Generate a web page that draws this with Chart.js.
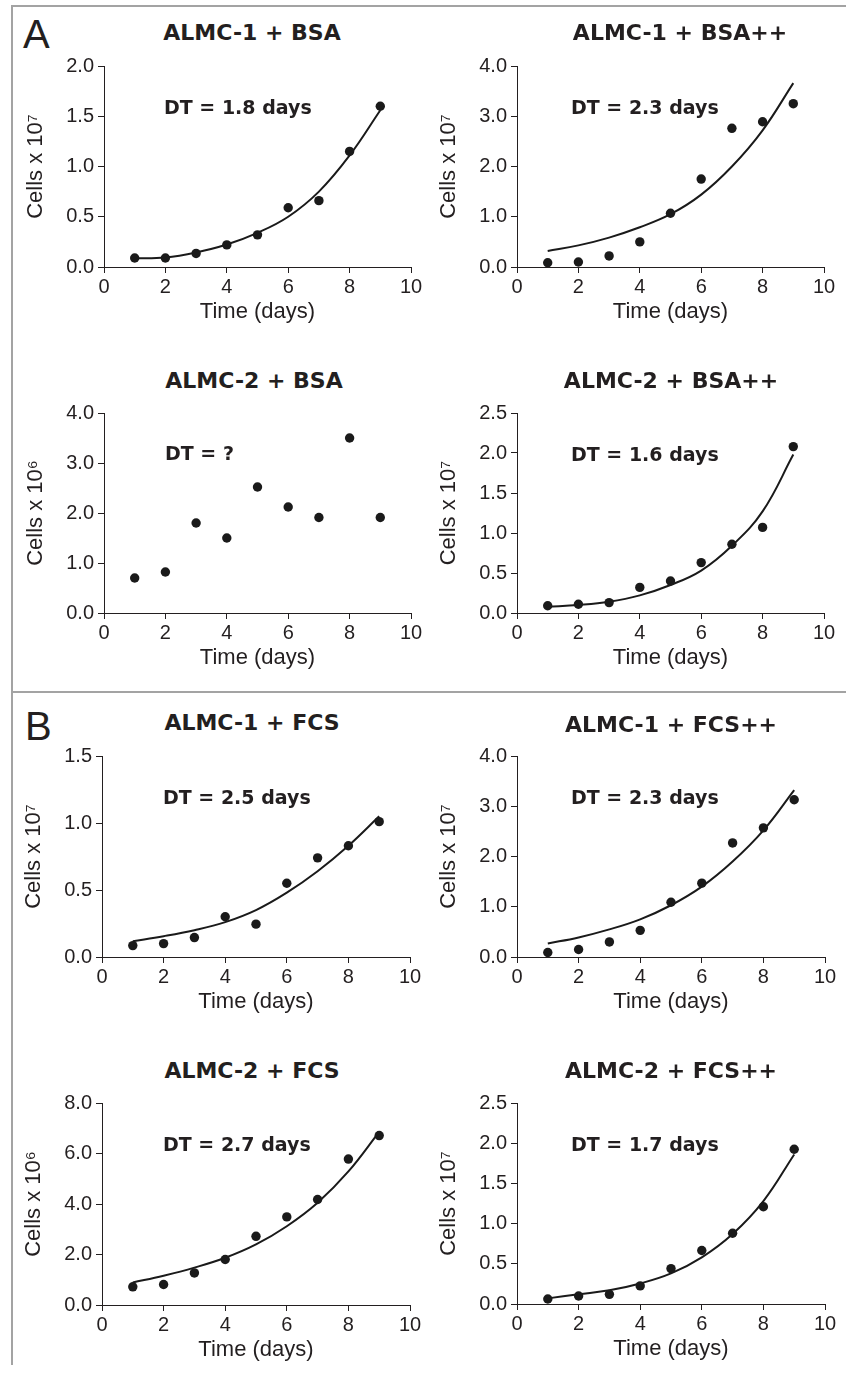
<!DOCTYPE html>
<html lang="en">
<head>
<meta charset="UTF-8">
<title>ALMC growth curves</title>
<script src="https://cdn.jsdelivr.net/npm/chart.js"></script>
<style>
  body { margin: 0; background: #fff; }
  #page { position: relative; width: 846px; height: 1375px; overflow: hidden;
          font-family: "DejaVu Sans", sans-serif; color: #231f20; }
  .frame { position: absolute; background: #a3a3a3; }
  .title { position: absolute; font-weight: bold; font-size: 22px; line-height: 22px;
           white-space: nowrap; transform: translateX(-50%); }
  .dt { position: absolute; font-weight: bold; font-size: 19px; line-height: 19px; white-space: nowrap; }
  .letter { position: absolute; font-family: "Liberation Sans", Arial, sans-serif;
            font-size: 40px; line-height: 40px; }
  canvas { position: absolute; }
</style>
</head>
<body>
<div id="page">
  <div class="frame" style="left:11px; top:5px; width:835px; height:1.5px;"></div>
  <div class="frame" style="left:11px; top:5px; width:1.5px; height:1360px;"></div>
  <div class="frame" style="left:11px; top:691px; width:835px; height:1.5px;"></div>
  <div class="letter" style="left:23px; top:14px;">A</div>
  <div class="letter" style="left:25px; top:706px;">B</div>
</div>

<script>
// time points (days) and x axis ticks
const days = [1, 2, 3, 4, 5, 6, 7, 8, 9];
const xTicks = [0, 2, 4, 6, 8, 10];

// A: ALMC-1 + BSA  (cells x 10^7)
const almc1BsaCells = [0.09, 0.09, 0.135, 0.22, 0.32, 0.59, 0.66, 1.15, 1.60];
const almc1BsaFit   = [0.086, 0.095, 0.145, 0.224, 0.34, 0.50, 0.75, 1.11, 1.56];
// A: ALMC-1 + BSA++  (cells x 10^7)
const almc1BsaPPCells = [0.085, 0.10, 0.22, 0.50, 1.07, 1.75, 2.76, 2.89, 3.25];
const almc1BsaPPFit   = [0.32, 0.43, 0.585, 0.79, 1.05, 1.44, 2.00, 2.72, 3.66];
// A: ALMC-2 + BSA  (cells x 10^6), no fit
const almc2BsaCells = [0.70, 0.82, 1.80, 1.50, 2.52, 2.12, 1.91, 3.50, 1.91];
// A: ALMC-2 + BSA++  (cells x 10^7)
const almc2BsaPPCells = [0.09, 0.11, 0.13, 0.32, 0.40, 0.63, 0.86, 1.07, 2.08];
const almc2BsaPPFit   = [0.078, 0.10, 0.14, 0.22, 0.35, 0.53, 0.84, 1.27, 1.98];

// B: ALMC-1 + FCS  (cells x 10^7)
const almc1FcsCells = [0.085, 0.10, 0.145, 0.30, 0.245, 0.55, 0.74, 0.83, 1.01];
const almc1FcsFit   = [0.118, 0.155, 0.20, 0.26, 0.35, 0.48, 0.64, 0.83, 1.05];
// B: ALMC-1 + FCS++  (cells x 10^7)
const almc1FcsPPCells = [0.09, 0.15, 0.30, 0.53, 1.09, 1.47, 2.27, 2.57, 3.13];
const almc1FcsPPFit   = [0.27, 0.39, 0.55, 0.75, 1.03, 1.40, 1.90, 2.52, 3.32];
// B: ALMC-2 + FCS  (cells x 10^6)
const almc2FcsCells = [0.72, 0.81, 1.27, 1.80, 2.72, 3.49, 4.18, 5.78, 6.71];
const almc2FcsFit   = [0.89, 1.16, 1.48, 1.87, 2.40, 3.12, 4.05, 5.29, 6.86];
// B: ALMC-2 + FCS++  (cells x 10^7)
const almc2FcsPPCells = [0.062, 0.10, 0.12, 0.225, 0.44, 0.665, 0.88, 1.21, 1.925];
const almc2FcsPPFit   = [0.07, 0.12, 0.17, 0.255, 0.38, 0.58, 0.87, 1.28, 1.86];

const titles = ['ALMC-1 + BSA', 'ALMC-1 + BSA++', 'ALMC-2 + BSA', 'ALMC-2 + BSA++',
                'ALMC-1 + FCS', 'ALMC-1 + FCS++', 'ALMC-2 + FCS', 'ALMC-2 + FCS++'];
const dtLabels = ['DT = 1.8 days', 'DT = 2.3 days', 'DT = ?', 'DT = 1.6 days',
                  'DT = 2.5 days', 'DT = 2.3 days', 'DT = 2.7 days', 'DT = 1.7 days'];
const yTitles = ['Cells x 10\u2077', 'Cells x 10\u2077', 'Cells x 10\u2076', 'Cells x 10\u2077',
                 'Cells x 10\u2077', 'Cells x 10\u2077', 'Cells x 10\u2076', 'Cells x 10\u2077'];
const yMax  = [2.0, 4.0, 4.0, 2.5, 1.5, 4.0, 8.0, 2.5];
const yStep = [0.5, 1.0, 1.0, 0.5, 0.5, 1.0, 2.0, 0.5];
const cells = [almc1BsaCells, almc1BsaPPCells, almc2BsaCells, almc2BsaPPCells,
               almc1FcsCells, almc1FcsPPCells, almc2FcsCells, almc2FcsPPCells];
const fits  = [almc1BsaFit, almc1BsaPPFit, null, almc2BsaPPFit,
               almc1FcsFit, almc1FcsPPFit, almc2FcsFit, almc2FcsPPFit];

// layout: plot box in page pixels [x at 0, x at 10, y at top, y at 0]
const boxes = [
  [104, 411, 64, 267], [517, 824, 64, 267],
  [104, 411, 411, 613], [517, 824, 411, 613],
  [102, 410, 754, 957], [517, 825, 754, 957],
  [102, 410, 1101, 1305], [517, 825, 1101, 1304]
];
const titlePos = [[252, 25], [680, 25], [254, 373], [671, 373],
                  [252, 715], [671, 717], [252, 1063], [671, 1063]];
const dtPos = [[164, 100], [571, 100], [165, 446], [571, 447],
               [163, 790], [571, 790], [163, 1137], [571, 1137]];

const ink = '#231f20';
const dot = '#1a1a1a';
const sans = '"Liberation Sans", Arial, sans-serif';
Chart.defaults.font.family = sans;
Chart.defaults.color = ink;

const page = document.getElementById('page');
const LEFT = 90, RIGHT = 18, TOP = 14, BOTTOM = 64;

titles.forEach((t, i) => {
  const [x0, x10, yTop, y0] = boxes[i];

  const canvas = document.createElement('canvas');
  const w = (x10 - x0) + LEFT + RIGHT;
  const h = (y0 - yTop) + TOP + BOTTOM;
  canvas.width = w; canvas.height = h;
  canvas.style.left = (x0 - LEFT) + 'px';
  canvas.style.top = (yTop - TOP) + 'px';
  canvas.style.width = w + 'px';
  canvas.style.height = h + 'px';
  page.appendChild(canvas);

  const tdiv = document.createElement('div');
  tdiv.className = 'title';
  tdiv.textContent = t;
  tdiv.style.left = titlePos[i][0] + 'px';
  tdiv.style.top = (titlePos[i][1] - 2.6) + 'px';
  page.appendChild(tdiv);

  const ddiv = document.createElement('div');
  ddiv.className = 'dt';
  ddiv.textContent = dtLabels[i];
  ddiv.style.left = dtPos[i][0] + 'px';
  ddiv.style.top = (dtPos[i][1] - 2.2) + 'px';
  page.appendChild(ddiv);

  const datasets = [{
    type: 'scatter',
    data: days.map((d, k) => ({ x: d, y: cells[i][k] })),
    pointRadius: 4.7,
    pointBackgroundColor: dot,
    pointBorderWidth: 0,
    showLine: false
  }];
  if (fits[i]) {
    datasets.push({
      type: 'line',
      data: days.map((d, k) => ({ x: d, y: fits[i][k] })),
      borderColor: dot,
      borderWidth: 2,
      pointRadius: 0,
      tension: 0.4,
      fill: false
    });
  }

  new Chart(canvas.getContext('2d'), {
    data: { datasets },
    options: {
      responsive: false,
      animation: false,
      events: [],
      layout: { padding: { left: 0, right: RIGHT, top: TOP, bottom: 4 } },
      plugins: { legend: { display: false }, tooltip: { enabled: false } },
      scales: {
        x: {
          type: 'linear', min: 0, max: 10,
          afterBuildTicks: s => { s.ticks = xTicks.map(v => ({ value: v })); },
          afterFit: s => { s.height = BOTTOM - 4; },
          ticks: { font: { size: 20 }, color: ink, padding: 2, maxRotation: 0, autoSkip: false },
          grid: { drawOnChartArea: false, tickLength: 6, color: ink, lineWidth: 1 },
          border: { color: ink, width: 1 },
          title: { display: true, text: 'Time (days)', font: { size: 22 }, color: ink,
                   padding: { top: 0, bottom: 2 } }
        },
        y: {
          type: 'linear', min: 0, max: yMax[i],
          ticks: { stepSize: yStep[i], font: { size: 20 }, color: ink, padding: 4,
                   callback: v => v.toFixed(1) },
          afterFit: s => { s.width = LEFT; },
          grid: { drawOnChartArea: false, tickLength: 6, color: ink, lineWidth: 1 },
          border: { color: ink, width: 1 },
          title: { display: true, text: yTitles[i], font: { size: 22 }, color: ink,
                   padding: { top: 9, bottom: 0 } }
        }
      }
    }
  });
});
</script>
</body>
</html>
